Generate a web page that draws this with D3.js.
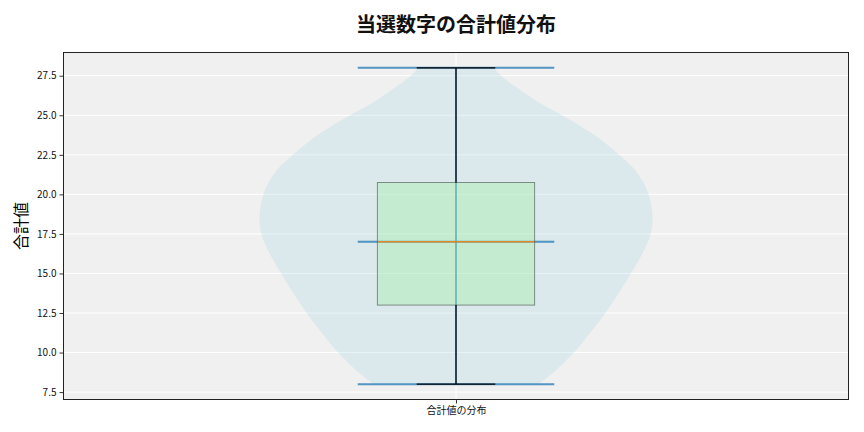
<!DOCTYPE html>
<html>
<head>
<meta charset="utf-8">
<script src="https://cdn.jsdelivr.net/npm/d3@7"></script>
<style>
  body { margin: 0; background: #fff; }
  text { font-family: "Noto Sans CJK JP", "Noto Sans", sans-serif; }
</style>
</head>
<body>
<svg id="chart" width="864" height="432"></svg>
<script>
// violin outline: value -> relative width (1 = widest)
var violinValues = [8, 8.9, 10, 11.2, 12.5, 13.8, 15, 16.3, 17.5, 18.5, 20, 21.4, 22.5, 23.7, 25, 25.6, 26.66, 27.5, 28];
var violinWidths = [0.42, 0.51, 0.60, 0.68, 0.76, 0.83, 0.89, 0.95, 0.99, 1.0, 0.98, 0.92, 0.83, 0.71, 0.54, 0.45, 0.32, 0.23, 0.19];

// box stats
var boxStats = { min: 8, q1: 13, median: 17, q3: 20.75, max: 28 };
var yTicks = [7.5, 10, 12.5, 15, 17.5, 20, 22.5, 25, 27.5];
var categories = ["合計値の分布"];

var svg = d3.select("#chart");
var pLeft = 63, pRight = 849, pTop = 52, pBottom = 400;

var x = d3.scaleLinear().domain([0.5, 1.5]).range([pLeft, pRight]);
var y = d3.scaleLinear().domain([7, 29]).range([pBottom, pTop]);

// title
svg.append("text")
    .attr("x", 456).attr("y", 32)
    .attr("text-anchor", "middle")
    .attr("font-size", 20)
    .attr("font-weight", "bold")
    .attr("fill", "#111")
    .text("当選数字の合計値分布");

// plot background
svg.append("rect")
    .attr("x", pLeft).attr("y", pTop)
    .attr("width", pRight - pLeft).attr("height", pBottom - pTop)
    .attr("fill", "#f0f0f0");

// grid
svg.append("g").selectAll("line")
    .data(yTicks).enter().append("line")
    .attr("x1", pLeft).attr("x2", pRight)
    .attr("y1", function (d) { return y(d); })
    .attr("y2", function (d) { return y(d); })
    .attr("stroke", "#fff").attr("stroke-width", 1);
svg.append("line")
    .attr("x1", x(1)).attr("x2", x(1))
    .attr("y1", pTop).attr("y2", pBottom)
    .attr("stroke", "#fff").attr("stroke-width", 1);

// violin body
var pts = violinValues.map(function (v, i) { return [v, violinWidths[i]]; });
var half = 0.25; // half of violin width in x units
var area = d3.area()
    .curve(d3.curveCatmullRom)
    .y(function (d) { return y(d[0]); })
    .x0(function (d) { return x(1 - d[1] * half); })
    .x1(function (d) { return x(1 + d[1] * half); });
svg.append("path")
    .datum(pts)
    .attr("d", area)
    .attr("fill", "#add8e6")
    .attr("fill-opacity", 0.3);

// violin lines (min, max, median, bar)
var lineHalf = 0.125;
[boxStats.min, boxStats.max, boxStats.median].forEach(function (v) {
    svg.append("line")
        .attr("x1", x(1 - lineHalf)).attr("x2", x(1 + lineHalf))
        .attr("y1", y(v)).attr("y2", y(v))
        .attr("stroke", "#1f77b4").attr("stroke-opacity", 0.75)
        .attr("stroke-width", 2);
});
svg.append("line")
    .attr("x1", x(1)).attr("x2", x(1))
    .attr("y1", y(boxStats.min)).attr("y2", y(boxStats.max))
    .attr("stroke", "#1f77b4").attr("stroke-opacity", 0.6)
    .attr("stroke-width", 2);

// box
var boxHalf = 0.1;
svg.append("rect")
    .attr("x", x(1 - boxHalf))
    .attr("y", y(boxStats.q3))
    .attr("width", x(1 + boxHalf) - x(1 - boxHalf))
    .attr("height", y(boxStats.q1) - y(boxStats.q3))
    .attr("fill", "#90ee90").attr("fill-opacity", 0.3)
    .attr("stroke", "#000").attr("stroke-opacity", 0.4)
    .attr("stroke-width", 1);

// whiskers
svg.append("line")
    .attr("x1", x(1)).attr("x2", x(1))
    .attr("y1", y(boxStats.q3)).attr("y2", y(boxStats.max))
    .attr("stroke", "#000").attr("stroke-width", 1.2);
svg.append("line")
    .attr("x1", x(1)).attr("x2", x(1))
    .attr("y1", y(boxStats.q1)).attr("y2", y(boxStats.min))
    .attr("stroke", "#000").attr("stroke-width", 1.2);
var capHalf = 0.05;
[boxStats.min, boxStats.max].forEach(function (v) {
    svg.append("line")
        .attr("x1", x(1 - capHalf)).attr("x2", x(1 + capHalf))
        .attr("y1", y(v)).attr("y2", y(v))
        .attr("stroke", "#000").attr("stroke-width", 1.2);
});

// median
svg.append("line")
    .attr("x1", x(1 - boxHalf)).attr("x2", x(1 + boxHalf))
    .attr("y1", y(boxStats.median)).attr("y2", y(boxStats.median))
    .attr("stroke", "#ff7f0e").attr("stroke-opacity", 0.8)
    .attr("stroke-width", 1.5);

// axes
var yAxis = d3.axisLeft(y).tickValues(yTicks).tickFormat(d3.format(".1f")).tickSize(3.5).tickPadding(3);
var gy = svg.append("g").attr("transform", "translate(" + pLeft + ",0)").call(yAxis);
gy.select(".domain").remove();
gy.selectAll("text").attr("font-size", 10).attr("fill", "#111");
gy.selectAll("line").attr("stroke", "#333");

var xAxis = d3.axisBottom(x).tickValues([1]).tickFormat(function (d, i) { return categories[i]; }).tickSize(3.5).tickPadding(3);
var gx = svg.append("g").attr("transform", "translate(0," + pBottom + ")").call(xAxis);
gx.select(".domain").remove();
gx.selectAll("text").attr("font-size", 10).attr("fill", "#111");
gx.selectAll("line").attr("stroke", "#333");

// frame
svg.append("rect")
    .attr("x", pLeft + 0.5).attr("y", pTop + 0.5)
    .attr("width", pRight - pLeft - 1).attr("height", pBottom - pTop - 1)
    .attr("fill", "none").attr("stroke", "#222").attr("stroke-width", 1);

// y label
svg.append("text")
    .attr("transform", "translate(27," + ((pTop + pBottom) / 2) + ") rotate(-90)")
    .attr("text-anchor", "middle")
    .attr("font-size", 16)
    .attr("fill", "#000")
    .text("合計値");
</script>
</body>
</html>
